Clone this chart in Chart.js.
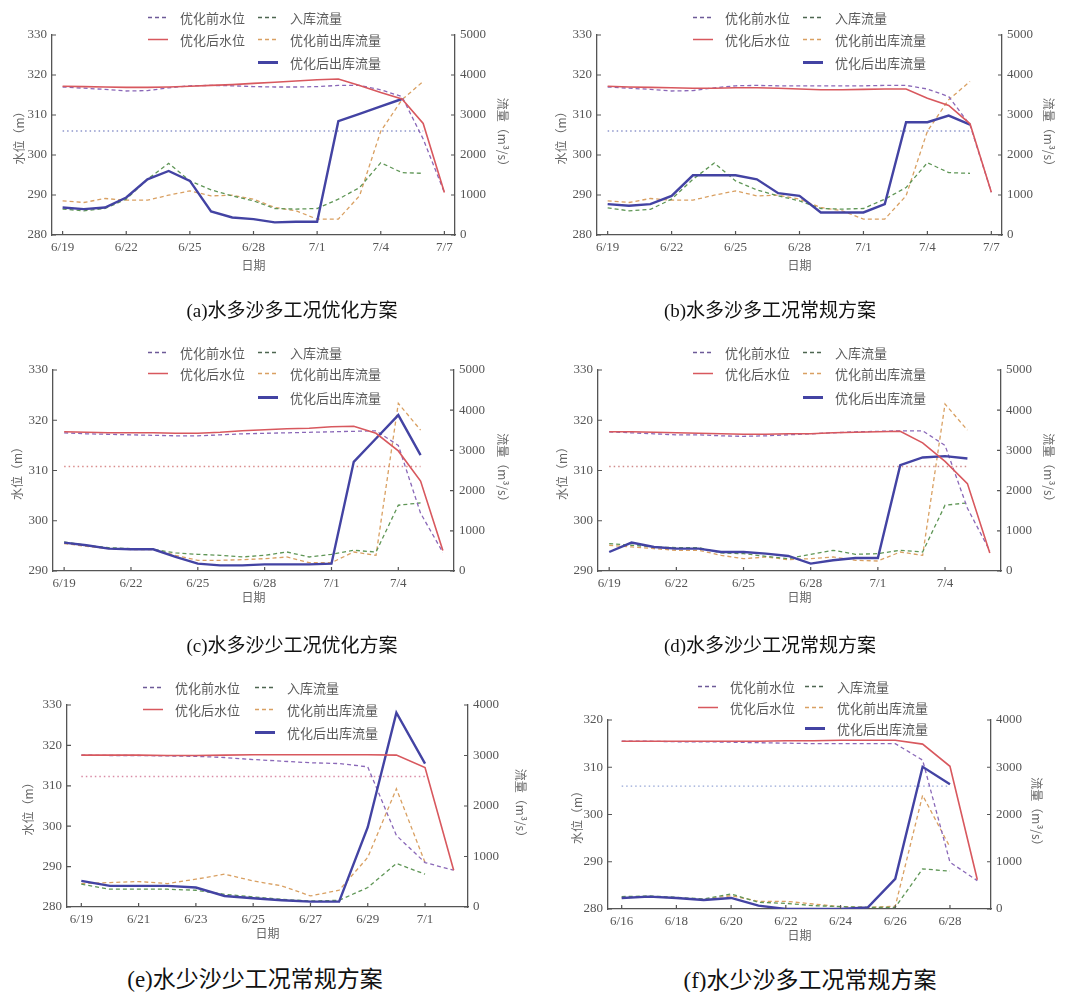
<!DOCTYPE html>
<html><head><meta charset="utf-8">
<script src="https://cdn.jsdelivr.net/npm/chart.js@4.4.1/dist/chart.umd.min.js"></script>
<style>
body{margin:0;background:#fff;width:1071px;height:992px;position:relative;overflow:hidden;font-family:"Noto Sans CJK SC",sans-serif;}
canvas{position:absolute;}
.cap{position:absolute;transform:translate(-50%,-50%);white-space:nowrap;color:#111;font-family:"Liberation Serif","Noto Sans CJK SC",serif;}
.lg{position:absolute;display:flex;align-items:center;transform:translateY(-50%);font-size:13px;color:#5a5a5a;white-space:nowrap;line-height:1;}
.lg svg{margin-right:12px;}
</style></head><body>
<canvas id="ca" width="535" height="280" style="left:0;top:0"></canvas>
<canvas id="cb" width="536" height="280" style="left:535px;top:0"></canvas>
<canvas id="cc" width="535" height="280" style="left:0;top:330px"></canvas>
<canvas id="cd" width="536" height="280" style="left:535px;top:330px"></canvas>
<canvas id="ce" width="535" height="290" style="left:0;top:660px"></canvas>
<canvas id="cf" width="536" height="290" style="left:535px;top:660px"></canvas>
<script>
// ---------- data (a) 水多沙多工况优化方案 ----------
const aTickVals = [0,3,6,9,12,15,18];
const aTickLabels = ['6/19','6/22','6/25','6/28','7/1','7/4','7/7'];
const aLevelBefore = [317.0,316.7,316.4,316.0,316.1,316.8,317.3,317.4,317.3,317.1,317.0,317.0,317.1,317.4,317.4,316.3,314.6,304.0,290.6];
const aLevelAfter  = [317.2,317.1,317.0,316.9,316.9,317.0,317.2,317.4,317.6,317.9,318.2,318.5,318.8,319.0,317.4,315.6,314.0,307.9,290.6];
const aInflow      = [647,605,663,896,1393,1791,1352,1128,978,854,663,647,663,896,1186,1808,1559,1542];
const aOutBefore   = [854,813,912,871,871,995,1103,978,995,896,688,605,398,398,980,2595,3383,3839];
const aOutAfter    = [688,647,688,937,1393,1600,1352,589,439,398,315,332,332,2844,3027,3217,3400];
const aLimit = 306, aLimitSpan = [0,17];

// ---------- data (b) 水多沙多工况常规方案 ----------
const bTickVals = [0,3,6,9,12,15,18];
const bTickLabels = ['6/19','6/22','6/25','6/28','7/1','7/4','7/7'];
const bLevelBefore = [317.0,316.7,316.4,316.0,316.1,316.8,317.3,317.4,317.3,317.3,317.3,317.3,317.3,317.4,317.4,316.5,314.6,307.5,290.7];
const bLevelAfter  = [317.2,317.0,316.9,316.8,316.7,316.7,316.8,316.8,316.7,316.5,316.3,316.3,316.4,316.5,316.5,314.2,312.4,307.8,290.7];
const bInflow      = [680,605,640,896,1393,1800,1352,1128,978,854,663,647,663,896,1186,1808,1559,1542];
const bOutBefore   = [854,813,912,871,871,995,1103,978,995,896,688,605,398,398,980,2595,3383,3839];
const bOutAfter    = [771,730,771,978,1493,1493,1493,1393,1045,978,564,564,564,771,2819,2819,2985,2761];
const bLimit = 306, bLimitSpan = [0,17];

// ---------- data (c) 水多沙少工况优化方案 ----------
const cTickVals = [0,3,6,9,12,15];
const cTickLabels = ['6/19','6/22','6/25','6/28','7/1','7/4'];
const cLevelBefore = [317.5,317.3,317.2,317.1,317.0,316.9,316.9,317.1,317.3,317.4,317.5,317.6,317.7,317.8,317.9,315.0,301.5,293.7];
const cLevelAfter  = [317.7,317.6,317.5,317.5,317.5,317.4,317.4,317.6,317.9,318.1,318.3,318.4,318.7,318.8,317.4,313.9,307.9,294.1];
const cInflow      = [723,640,581,556,540,449,415,390,349,390,473,349,415,515,473,1636,1694];
const cOutBefore   = [681,615,556,532,532,390,266,266,282,307,349,208,208,473,390,4170,3505];
const cOutAfter    = [706,640,556,540,540,349,183,141,141,166,166,166,183,2716,3297,3879,2882];
const cLimit = 310.8, cLimitSpan = [0,16];

// ---------- data (d) 水多沙少工况常规方案 ----------
const dTickVals = [0,3,6,9,12,15];
const dTickLabels = ['6/19','6/22','6/25','6/28','7/1','7/4'];
const dLevelBefore = [317.7,317.5,317.3,317.1,317.1,316.9,316.8,316.9,317.1,317.3,317.5,317.7,317.8,317.9,317.9,315.0,302.5,294.0];
const dLevelAfter  = [317.7,317.7,317.6,317.5,317.4,317.3,317.2,317.2,317.3,317.3,317.5,317.6,317.7,317.8,315.5,311.8,307.4,293.6];
const dInflow      = [681,640,598,581,581,449,432,365,307,415,515,415,432,515,473,1636,1694];
const dOutBefore   = [640,598,556,515,515,390,307,349,282,307,349,266,249,473,390,4153,3505];
const dOutAfter    = [473,706,598,556,556,473,473,432,374,183,266,324,324,2633,2824,2857,2799];
const dLimit = 310.8, dLimitSpan = [0,16];

// ---------- data (e) 水少沙少工况常规方案 ----------
const eTickVals = [0,2,4,6,8,10,12];
const eTickLabels = ['6/19','6/21','6/23','6/25','6/27','6/29','7/1'];
const eLevelBefore = [317.6,317.5,317.5,317.4,317.3,317.0,316.5,316.1,315.7,315.5,314.7,297.7,291.0,289.1];
const eLevelAfter  = [317.6,317.6,317.6,317.5,317.5,317.6,317.7,317.7,317.7,317.7,317.7,317.6,314.5,289.1];
const eInflow      = [451,352,352,352,332,252,199,153,119,133,385,862,650];
const eOutBefore   = [464,484,504,464,551,650,517,418,219,332,982,2342,882];
const eOutAfter    = [517,418,418,418,385,219,172,133,106,106,1579,3847,2839];
const eLimit = 312.3, eLimitSpan = [0,12];

// ---------- data (f) 水少沙多工况常规方案 ----------
const fTickVals = [0,2,4,6,8,10,12];
const fTickLabels = ['6/16','6/18','6/20','6/22','6/24','6/26','6/28'];
const fLevelBefore = [315.5,315.5,315.4,315.4,315.3,315.2,315.1,315.0,315.0,315.0,315.0,311.5,289.9,286.0];
const fLevelAfter  = [315.5,315.5,315.5,315.5,315.5,315.5,315.6,315.6,315.7,315.7,315.7,314.9,310.2,286.2];
const fInflow      = [262,276,248,212,318,142,120,71,50,35,35,850,800];
const fOutBefore   = [234,262,234,205,283,163,163,106,50,35,57,2407,1310];
const fOutAfter    = [234,262,234,191,234,71,0,0,0,35,637,3009,2641];
const fLimit = 306, fLimitSpan = [0,12];

const seriesNames = ['优化前水位','入库流量','优化后水位','优化前出库流量','优化后出库流量'];
const captions = ['(a)水多沙多工况优化方案','(b)水多沙多工况常规方案','(c)水多沙少工况优化方案','(d)水多沙少工况常规方案','(e)水少沙少工况常规方案','(f)水少沙多工况常规方案'];

// ---------- styles ----------
const PURPLE='#8a68b8', GREEN='#5f9656', ORANGE='#d9a062', RED='#d8585e', BLUE='#4343a3';
const AXIS='#555', TXT='#555';
const tickFont={family:'Liberation Serif',size:13};
const titleFont={family:'Noto Sans CJK SC',size:12};

const inTicks={id:'inTicks',afterDraw(chart){
  const c=chart.ctx,a=chart.chartArea;c.save();c.strokeStyle=AXIS;c.lineWidth=1.2;c.beginPath();
  const x=chart.scales.x;x.ticks.forEach(t=>{const p=x.getPixelForValue(t.value);c.moveTo(p,a.bottom);c.lineTo(p,a.bottom-4);});
  const y=chart.scales.y;y.ticks.forEach(t=>{const p=y.getPixelForValue(t.value);c.moveTo(a.left,p);c.lineTo(a.left+4,p);});
  const y1=chart.scales.y1;y1.ticks.forEach(t=>{const p=y1.getPixelForValue(t.value);c.moveTo(a.right,p);c.lineTo(a.right-4,p);});
  c.stroke();c.restore();}};

const pts=arr=>arr.map((v,i)=>({x:i,y:v}));

function makeChart(id,g,d){
  new Chart(document.getElementById(id),{
    type:'line',
    data:{datasets:[
      {label:seriesNames[2],data:pts(d.lAfter),yAxisID:'y',borderColor:RED,borderWidth:1.6},
      {label:seriesNames[4],data:pts(d.qAfter),yAxisID:'y1',borderColor:BLUE,borderWidth:2.4},
      {label:seriesNames[0],data:pts(d.lBefore),yAxisID:'y',borderColor:PURPLE,borderWidth:1.3,borderDash:[4,3]},
      {label:seriesNames[1],data:pts(d.inflow),yAxisID:'y1',borderColor:GREEN,borderWidth:1.3,borderDash:[4,3]},
      {label:seriesNames[3],data:pts(d.qBefore),yAxisID:'y1',borderColor:ORANGE,borderWidth:1.3,borderDash:[4,3]},
      {label:'limit',data:[{x:d.span[0],y:d.limit},{x:d.span[1],y:d.limit}],yAxisID:'y',borderColor:d.limColor,borderWidth:1.3,borderDash:[1.5,3]}
    ]},
    options:{
      responsive:false,animation:false,devicePixelRatio:1,
      layout:{padding:{top:g.top,left:0,right:0,bottom:0}},
      plugins:{legend:{display:false},tooltip:{enabled:false}},
      elements:{point:{radius:0},line:{tension:0}},
      scales:{
        x:{type:'linear',min:-0.5,max:d.xMax,
          afterBuildTicks:s=>{s.ticks=d.tickVals.map(v=>({value:v}));},
          ticks:{autoSkip:false,maxRotation:0,padding:5,font:tickFont,color:TXT,
            callback:v=>{const i=d.tickVals.indexOf(v);return i>=0?d.tickLabels[i]:'';}},
          grid:{display:false,drawTicks:false},border:{color:AXIS,width:1.3},
          title:{display:true,text:'日期',color:'#666',font:titleFont,padding:{top:0,bottom:g.xt}},
          afterFit:s=>{s.height=g.xh;}},
        y:{position:'left',min:d.lMin,max:d.lMax,
          ticks:{stepSize:10,padding:5,font:tickFont,color:TXT,callback:v=>String(v)},
          grid:{display:false,drawTicks:false},border:{color:AXIS,width:1.3},
          title:{display:true,text:'水位（m）',color:'#666',font:titleFont,padding:{top:g.lt,bottom:0}},
          afterFit:s=>{s.width=g.lw;}},
        y1:{position:'right',min:0,max:d.qMax,
          ticks:{stepSize:1000,padding:5,font:tickFont,color:TXT,callback:v=>String(v)},
          grid:{display:false,drawTicks:false},border:{color:AXIS,width:1.3},
          title:{display:true,text:'流量（m³/s）',color:'#666',font:titleFont,padding:{top:g.rt,bottom:0}},
          afterFit:s=>{s.width=g.rw;}}
      }
    },
    plugins:[inTicks]
  });
}

makeChart('ca',{top:35,lw:52,rw:80,xh:45,xt:7.8,lt:11.8,rt:25.3},
  {tickVals:aTickVals,tickLabels:aTickLabels,xMax:18.5,lMin:280,lMax:330,qMax:5000,lBefore:aLevelBefore,lAfter:aLevelAfter,inflow:aInflow,qBefore:aOutBefore,qAfter:aOutAfter,limit:aLimit,span:aLimitSpan,limColor:'#8e96cc'});
makeChart('cb',{top:35,lw:62,rw:69,xh:45,xt:7.8,lt:18.8,rt:14.8},
  {tickVals:bTickVals,tickLabels:bTickLabels,xMax:18.5,lMin:280,lMax:330,qMax:5000,lBefore:bLevelBefore,lAfter:bLevelAfter,inflow:bInflow,qBefore:bOutBefore,qAfter:bOutAfter,limit:bLimit,span:bLimitSpan,limColor:'#8e96cc'});
makeChart('cc',{top:40,lw:53,rw:81,xh:39,xt:5.8,lt:9.8,rt:24.8},
  {tickVals:cTickVals,tickLabels:cTickLabels,xMax:17.5,lMin:290,lMax:330,qMax:5000,lBefore:cLevelBefore,lAfter:cLevelAfter,inflow:cInflow,qBefore:cOutBefore,qAfter:cOutAfter,limit:cLimit,span:cLimitSpan,limColor:'#d98c8c'});
makeChart('cd',{top:40,lw:63,rw:70,xh:39,xt:5.8,lt:19.8,rt:14.8},
  {tickVals:dTickVals,tickLabels:dTickLabels,xMax:17.5,lMin:290,lMax:330,qMax:5000,lBefore:dLevelBefore,lAfter:dLevelAfter,inflow:dInflow,qBefore:dOutBefore,qAfter:dOutAfter,limit:dLimit,span:dLimitSpan,limColor:'#d08c8c'});
makeChart('ce',{top:45,lw:67,rw:67,xh:43,xt:9.8,lt:20.8,rt:6.8},
  {tickVals:eTickVals,tickLabels:eTickLabels,xMax:13.5,lMin:280,lMax:330,qMax:4000,lBefore:eLevelBefore,lAfter:eLevelAfter,inflow:eInflow,qBefore:eOutBefore,qAfter:eOutAfter,limit:eLimit,span:eLimitSpan,limColor:'#d98ca6'});
makeChart('cf',{top:60,lw:73,rw:80,xh:41,xt:7.8,lt:34.8,rt:26.8},
  {tickVals:fTickVals,tickLabels:fTickLabels,xMax:13.5,lMin:280,lMax:320,qMax:4000,lBefore:fLevelBefore,lAfter:fLevelAfter,inflow:fInflow,qBefore:fOutBefore,qAfter:fOutAfter,limit:fLimit,span:fLimitSpan,limColor:'#96a6d6'});

// ---------- legends (HTML) ----------
const legendPos=[
  {c:[148,258],r:[17,39,62]},{c:[693,803],r:[17,39,62]},
  {c:[148,258],r:[352,373,397]},{c:[693,803],r:[352,373,397]},
  {c:[143,255],r:[687,709,732]},{c:[698,805],r:[686,707,728]}];
const legendEntries=[
  {name:0,col:0,row:0,color:'#6d5a98',w:1.4,dash:'4,3'},
  {name:1,col:1,row:0,color:'#4d6650',w:1.4,dash:'4,3'},
  {name:2,col:0,row:1,color:RED,w:1.6,dash:''},
  {name:3,col:1,row:1,color:ORANGE,w:1.4,dash:'4,3'},
  {name:4,col:1,row:2,color:BLUE,w:3,dash:''}];
legendPos.forEach(p=>{legendEntries.forEach(e=>{
  const d=document.createElement('div');d.className='lg';
  d.style.left=p.c[e.col]+'px';d.style.top=p.r[e.row]+'px';
  d.innerHTML='<svg width="20" height="6"><line x1="0" y1="3" x2="20" y2="3" stroke="'+e.color+'" stroke-width="'+e.w+'"'+(e.dash?' stroke-dasharray="'+e.dash+'"':'')+'/></svg><span>'+seriesNames[e.name]+'</span>';
  document.body.appendChild(d);});});

// ---------- captions ----------
const capPos=[[292,308,19],[770,308,19],[292,643,19],[770,643,19],[255,977,23],[810,978,23]];
capPos.forEach((p,i)=>{const d=document.createElement('div');d.className='cap';d.style.left=p[0]+'px';d.style.top=p[1]+'px';d.style.fontSize=p[2]+'px';d.textContent=captions[i];document.body.appendChild(d);});
</script>
</body></html>
